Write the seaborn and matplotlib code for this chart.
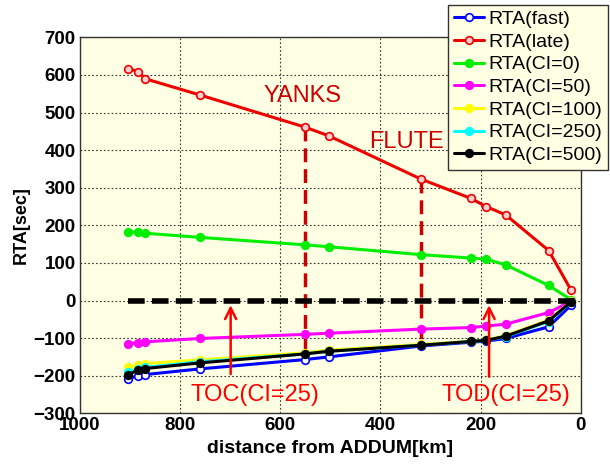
import numpy as np
import pandas as pd
import matplotlib
matplotlib.use("Agg")
import matplotlib.pyplot as plt
import seaborn as sns

distance = [903, 884, 870, 761, 550, 503, 319, 220, 189, 150, 64, 19]

rta_fast = [-208, -200, -197, -182, -157, -150, -121, -111, -108, -101, -70, -12]
rta_late = [617, 609, 590, 547, 461, 438, 323, 272, 250, 228, 133, 27]
rta_ci0 = [183, 181, 179, 168, 148, 143, 122, 113, 110, 95, 40, 2]
rta_ci50 = [-115, -112, -110, -101, -90, -87, -76, -72, -68, -63, -32, -2]
rta_ci100 = [-178, -172, -168, -158, -139, -132, -117, -108, -105, -94, -52, -2]
rta_ci250 = [-190, -182, -178, -163, -142, -135, -119, -109, -106, -96, -56, -3]
rta_ci500 = [-197, -185, -181, -166, -142, -135, -119, -109, -106, -95, -54, -3]

series = [
    ("RTA(fast)", rta_fast, "#0000ff", "white"),
    ("RTA(late)", rta_late, "#ee0000", "#ffd0d0"),
    ("RTA(CI=0)", rta_ci0, "#00ee00", None),
    ("RTA(CI=50)", rta_ci50, "#ff00ff", None),
    ("RTA(CI=100)", rta_ci100, "#ffff00", None),
    ("RTA(CI=250)", rta_ci250, "#00ffff", None),
    ("RTA(CI=500)", rta_ci500, "#000000", None),
]

sns.set_style("white")
plt.rcParams['font.family'] = ['Liberation Sans', 'DejaVu Sans']
plt.rcParams.update({"text.color": "black", "axes.labelcolor": "black",
                     "xtick.color": "black", "ytick.color": "black"})

fig = plt.figure(figsize=(6.1, 4.67), dpi=100)
ax = fig.add_axes([0.131, 0.115, 0.821, 0.805])
ax.set_facecolor("#ffffe3")

for name, vals, col, mfc in series:
    df = pd.DataFrame({"d": distance, "v": vals})
    sns.lineplot(data=df, x="d", y="v", ax=ax, color=col, linewidth=2.2,
                 marker="o", markersize=5.5, markeredgecolor=col,
                 markerfacecolor=mfc if mfc else col, markeredgewidth=1.2,
                 label=name, sort=False, zorder=3)

# zero reference and event markers
ax.plot([903, 10], [0, 0], color="black", lw=4, ls=(0, (3, 1.3)), zorder=4)
ax.plot([550, 550], [461, -148], color="#cc0000", lw=2.5, ls=(0, (4, 2)), zorder=2)
ax.plot([319, 319], [323, -121], color="#cc0000", lw=2.5, ls=(0, (4, 2)), zorder=2)

ax.annotate("", xy=(699, -5), xytext=(699, -203),
            arrowprops=dict(arrowstyle="->", color="#ff0000", lw=1.8, mutation_scale=20))
ax.annotate("", xy=(183, -5), xytext=(183, -210),
            arrowprops=dict(arrowstyle="->", color="#ff0000", lw=1.8, mutation_scale=20))

ax.text(555, 544, "YANKS", color="#cc0000", fontsize=17, ha="center", va="center")
ax.text(422, 422, "FLUTE", color="#cc0000", fontsize=17, ha="left", va="center")
ax.text(650, -251, "TOC(CI=25)", color="#ff0000", fontsize=17, ha="center", va="center")
ax.text(150, -251, "TOD(CI=25)", color="#ff0000", fontsize=17, ha="center", va="center")

ax.set_xlim(1000, 0)
ax.set_ylim(-300, 700)
ax.set_xticks([1000, 800, 600, 400, 200, 0])
ax.set_yticks(np.arange(-300, 701, 100))
ax.grid(True, color="#333333", ls=(0, (1.5, 2)), lw=0.8)
ax.tick_params(labelsize=13.5, length=0, pad=3, colors="black")
for lbl in ax.get_xticklabels() + ax.get_yticklabels():
    lbl.set_fontweight("bold")
for sp in ax.spines.values():
    sp.set_color("#333333")
    sp.set_linewidth(1)

ax.set_xlabel("distance from ADDUM[km]", fontsize=14, fontweight="bold", labelpad=4)
ax.set_ylabel("RTA[sec]", fontsize=13, fontweight="bold", labelpad=3)

leg = ax.legend(loc="upper right", bbox_to_anchor=(0.996, 0.99),
                bbox_transform=fig.transFigure, fontsize=14, frameon=True,
                fancybox=False, edgecolor="#333333", facecolor="#ffffe3",
                handlelength=1.55, handletextpad=0.2, labelspacing=0.26,
                borderpad=0.3, borderaxespad=0, framealpha=1)
for t in leg.get_texts():
    t.set_color("black")
leg.set_zorder(10)

fig.savefig("out.png", dpi=100, facecolor="white")
